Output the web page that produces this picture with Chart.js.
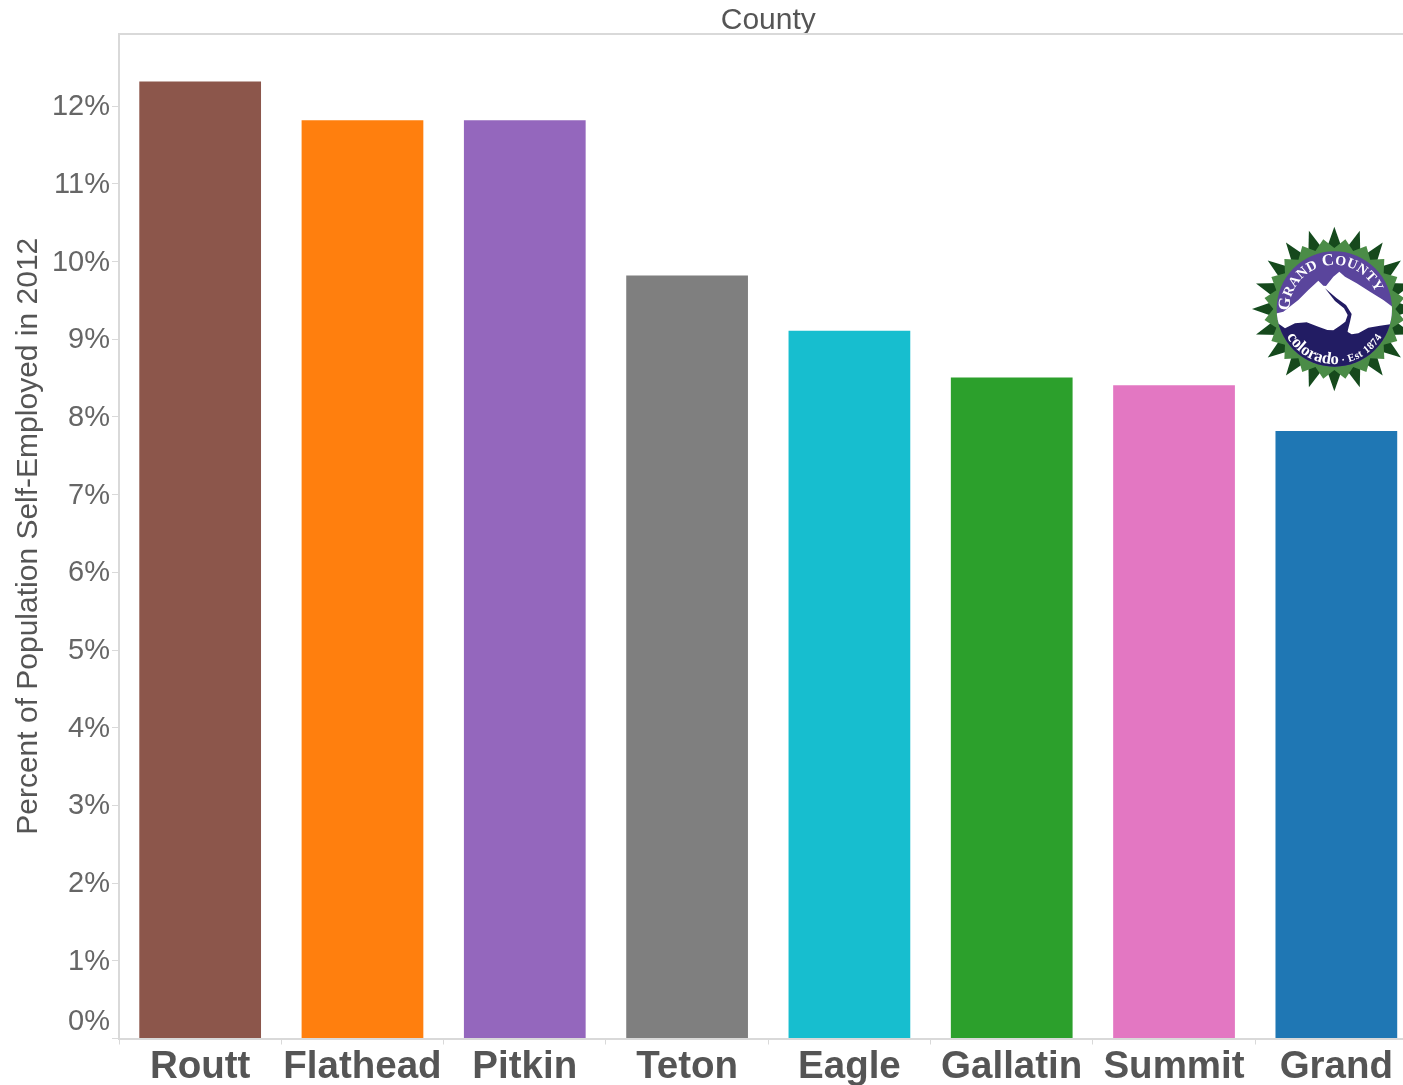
<!DOCTYPE html>
<html>
<head>
<meta charset="utf-8">
<title>Percent of Population Self-Employed in 2012</title>
<script src="https://cdn.jsdelivr.net/npm/chart.js@4"></script>
<style>
  html, body { margin: 0; padding: 0; background: #fff; width: 1403px; height: 1085px; overflow: hidden; }
  #stage { position: relative; width: 1403px; height: 1085px; overflow: hidden; }
  canvas { position: absolute; left: 0; top: 0; }
  #seal { position: absolute; left: 1240px; top: 215px; width: 163px; height: 185px; overflow: hidden; }
</style>
</head>
<body>
<div id="stage">
  <canvas id="chart" width="1422" height="1085" style="width:1422px;height:1085px"></canvas>
  <svg id="seal" viewBox="0 0 489 555" xmlns="http://www.w3.org/2000/svg">
    <defs>
      <filter id="soft" x="-5%" y="-5%" width="110%" height="110%"><feGaussianBlur stdDeviation="1.5"/></filter>
      <clipPath id="disc"><circle cx="283" cy="282" r="173"/></clipPath>
      <path id="upperArc" d="M 148 287 A 135 135 0 0 1 418 282"/>
      <path id="lowerArc" d="M 118 282 A 165 165 0 0 0 448 282"/>
    </defs>
    <g filter="url(#soft)">
      <g id="spikes"></g>
      <circle cx="283" cy="282" r="173" fill="#5a459c"/>
      <g clip-path="url(#disc)">
        <path fill="#231b63" d="M 100 315 H 470 V 470 H 100 Z"/>
        <path fill="#ffffff" d="M 100 298 L 130 290 L 175 255 L 205 225 L 235 197 L 250 212 L 258 213 L 280 185 L 298 170 L 315 185
                                L 350 205 L 390 230 L 430 255 L 470 285 V 325 L 420 332 L 385 338 L 355 355 L 335 358 L 322 350
                                L 316 320 L 300 332 L 280 346 L 262 345 L 235 335 L 200 322 L 165 325 L 135 340 L 118 328 L 100 320 Z"/>
        <path fill="#231b63" d="M 255 220 L 290 250 L 318 270 L 335 297 L 330 320 L 322 352 L 305 340 L 316 320 L 323 300 L 312 280 L 285 258 Z"/>
      </g>
      <text font-family="Liberation Serif" font-weight="700" fill="#fff" font-size="50" letter-spacing="1">
        <textPath href="#upperArc">G<tspan font-size="42">RAND</tspan> C<tspan font-size="42">OUNTY</tspan></textPath>
      </text>
      <text font-family="Liberation Serif" font-weight="700" fill="#fff" font-size="50">
        <textPath href="#lowerArc" startOffset="50%" text-anchor="middle">colorado<tspan font-size="32" letter-spacing="1.5"> · Est 1874</tspan></textPath>
      </text>
    </g>
  </svg>
</div>
<script>
// Share of residents self-employed, by county, 2012
const counties = ['Routt', 'Flathead', 'Pitkin', 'Teton', 'Eagle', 'Gallatin', 'Summit', 'Grand'];
const selfEmployedPct = [12.32, 11.82, 11.82, 9.82, 9.11, 8.51, 8.41, 7.82];
const barColors = ['#8c564b', '#ff7f0e', '#9467bd', '#7f7f7f', '#17becf', '#2ca02c', '#e377c2', '#1f77b4'];
const percentTicks = [0, 1, 2, 3, 4, 5, 6, 7, 8, 9, 10, 11, 12];
const axisMax = 12.93;

const AXIS_GREY = '#d9d9d9';
const FONT = '"Liberation Sans", Arial, sans-serif';

// Seal border: dark outer spikes sit behind a lighter green star
(function buildSealSpikes() {
  const NS = 'http://www.w3.org/2000/svg';
  const group = document.getElementById('spikes');
  const cx = 283, cy = 282, count = 20;
  const pt = (r, deg) => {
    const a = (deg - 90) * Math.PI / 180;
    return (cx + r * Math.cos(a)).toFixed(1) + ',' + (cy + r * Math.sin(a)).toFixed(1);
  };
  const addPolygon = (points, fill) => {
    const p = document.createElementNS(NS, 'polygon');
    p.setAttribute('points', points.join(' '));
    p.setAttribute('fill', fill);
    group.appendChild(p);
  };
  for (let i = 0; i < count; i++) {
    const deg = i * 360 / count;
    addPolygon([pt(247, deg), pt(178, deg - 8), pt(178, deg + 8)], '#124a1c');
  }
  const star = [];
  for (let i = 0; i < count; i++) {
    const deg = i * 360 / count;
    star.push(pt(183, deg), pt(212, deg + 9));
  }
  addPolygon(star, '#4c8c46');
})();

new Chart(document.getElementById('chart'), {
  type: 'bar',
  data: {
    labels: counties,
    datasets: [{
      data: selfEmployedPct,
      backgroundColor: barColors,
      categoryPercentage: 1,
      barPercentage: 0.75,
      borderWidth: 0
    }]
  },
  options: {
    responsive: false,
    animation: false,
    layout: { padding: { left: 0, right: 4.5, top: 0, bottom: 0 } },
    plugins: { legend: { display: false }, tooltip: { enabled: false } },
    scales: {
      x: {
        position: 'bottom',
        afterFit: s => { s.height = 46.5; },
        grid: { display: true, drawOnChartArea: false, drawTicks: true, tickLength: 6, color: AXIS_GREY, offset: true },
        border: { display: true, color: AXIS_GREY, width: 2 },
        ticks: {
          color: '#555555',
          padding: 0,
          maxRotation: 0,
          autoSkip: false,
          font: { family: FONT, size: 38.5, weight: 'bold' }
        }
      },
      county: {
        type: 'category',
        labels: [''],
        position: 'top',
        afterFit: s => { s.height = 34; },
        grid: { display: false },
        border: { display: true, color: AXIS_GREY, width: 2 },
        ticks: { display: false },
        title: {
          display: true,
          text: 'County',
          color: '#555555',
          padding: { top: 3, bottom: 0 },
          font: { family: FONT, size: 30 }
        }
      },
      y: {
        min: 0,
        max: axisMax,
        afterFit: s => { s.width = 119; },
        afterBuildTicks: s => { s.ticks = percentTicks.map(value => ({ value })); },
        grid: { display: true, drawOnChartArea: false, drawTicks: true, tickLength: 7, color: AXIS_GREY },
        border: { display: true, color: AXIS_GREY, width: 2 },
        ticks: {
          color: '#666666',
          padding: 2,
          labelOffset: 1,
          // the blank second line lifts the zero label clear of the baseline
          callback: v => (v === 0 ? ['0%', ''] : v + '%'),
          font: { family: FONT, size: 29 }
        },
        title: {
          display: true,
          text: 'Percent of Population Self-Employed in 2012',
          color: '#555555',
          padding: { top: 11, bottom: 0 },
          font: { family: FONT, size: 30 }
        }
      }
    }
  }
});
</script>
</body>
</html>
